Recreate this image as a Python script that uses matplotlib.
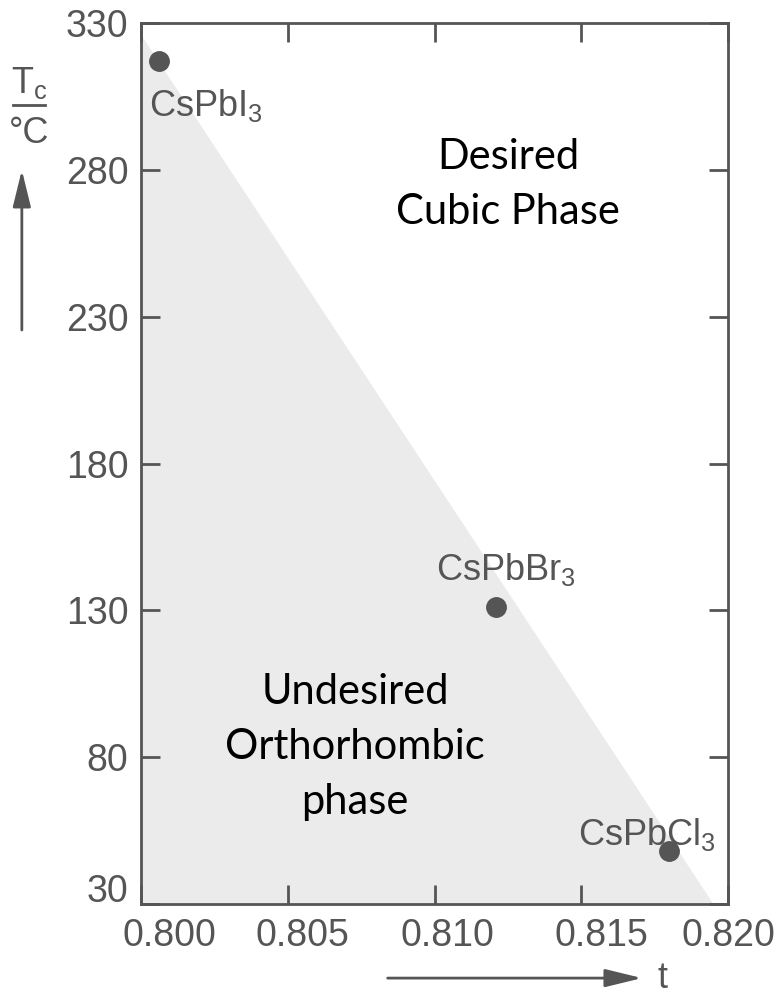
'''
Transition temperature of CsPbX3 perovskites against the tolerance factor t,
with the cubic / orthorhombic regions marked.
'''

import matplotlib.pyplot as plt
from matplotlib.transforms import ScaledTranslation

plt.rcParams['font.family'] = ['Liberation Sans', 'DejaVu Sans']
plt.rcParams['mathtext.fontset'] = 'custom'
plt.rcParams['mathtext.rm'] = 'Liberation Sans'
plt.rcParams['mathtext.default'] = 'regular'

# measured points
compounds = ['CsPbI$_3$', 'CsPbBr$_3$', 'CsPbCl$_3$']
tolerance = [0.8006, 0.8121, 0.8180]
tc = [317, 131, 48]

# shaded orthorhombic region (triangle below the boundary)
boundary_t = [0.800, 0.8195, 0.800]
boundary_tc = [326, 30, 30]

xticks = [0.800, 0.805, 0.810, 0.815, 0.820]
xticklabels = ['0.800', '0.805', '0.810', '0.815', '0.820']
yticks = [30, 80, 130, 180, 230, 280, 330]

grey = '#555555'

fig = plt.figure(figsize=(7.8, 9.94), dpi=100)
ax = fig.add_axes([0.1808, 0.0905, 0.7526, 0.8864])

ax.fill(boundary_t, boundary_tc, color='#ebebeb', lw=0, zorder=0)
ax.plot(tolerance, tc, 'o', color=grey, ms=14, zorder=3)

# compound labels, offsets in points from each dot
offsets = [(-7, -32), (-43, 27), (-66, 12)]
for name, x, y, off in zip(compounds, tolerance, tc, offsets):
    ax.annotate(name, (x, y), xytext=off, textcoords='offset points',
                ha='left', va='center', fontsize=26, color=grey)

ax.text(0.8125, 275, 'Desired\nCubic Phase', ha='center', va='center',
        fontsize=30, family='Lato', color='black', linespacing=1.55)
ax.text(0.8073, 83.5, 'Undesired\nOrthorhombic\nphase', ha='center', va='center',
        fontsize=30, family='Lato', color='black', linespacing=1.55)

ax.set_xlim(0.800, 0.820)
ax.set_ylim(30, 330)
ax.set_xticks(xticks)
ax.set_xticklabels(xticklabels)
ax.set_yticks(yticks)
ax.tick_params(direction='in', length=14, width=2, color=grey,
               top=True, right=True, labelsize=27, labelcolor=grey)
ax.tick_params(axis='x', pad=10)
ax.tick_params(axis='y', pad=9)
for s in ax.spines.values():
    s.set_linewidth(2)
    s.set_color(grey)

# x labels sit a little right of their ticks, first one the most
shifts = [0.28, 0.15, 0.13, 0.2, 0.0]
for lab, dx in zip(ax.get_xticklabels(), shifts):
    lab.set_transform(lab.get_transform() + ScaledTranslation(dx, 0, fig.dpi_scale_trans))
bottom = ax.get_yticklabels()[0]
bottom.set_transform(bottom.get_transform() + ScaledTranslation(0, 0.16, fig.dpi_scale_trans))

# axis labels drawn as in the original figure: fraction and arrows
fig.text(0.037, 0.917, 'T$_c$', ha='center', va='center', fontsize=26, color=grey)
fig.text(0.037, 0.866, '°C', ha='center', va='center', fontsize=26, color=grey)
fig.add_artist(plt.Line2D([0.017, 0.058], [0.894, 0.894], color=grey, lw=2))
arrow = dict(arrowstyle='-|>,head_length=0.9,head_width=0.22', color=grey, lw=2,
             mutation_scale=25, shrinkA=0, shrinkB=0)
ax.annotate('', xy=(0.028, 0.829), xytext=(0.028, 0.668), xycoords='figure fraction',
            arrowprops=arrow)
ax.annotate('', xy=(0.823, 0.016), xytext=(0.497, 0.016), xycoords='figure fraction',
            arrowprops=arrow)
fig.text(0.85, 0.016, 't', ha='center', va='center', fontsize=26, color=grey)

plt.savefig('out.png', dpi=100)
